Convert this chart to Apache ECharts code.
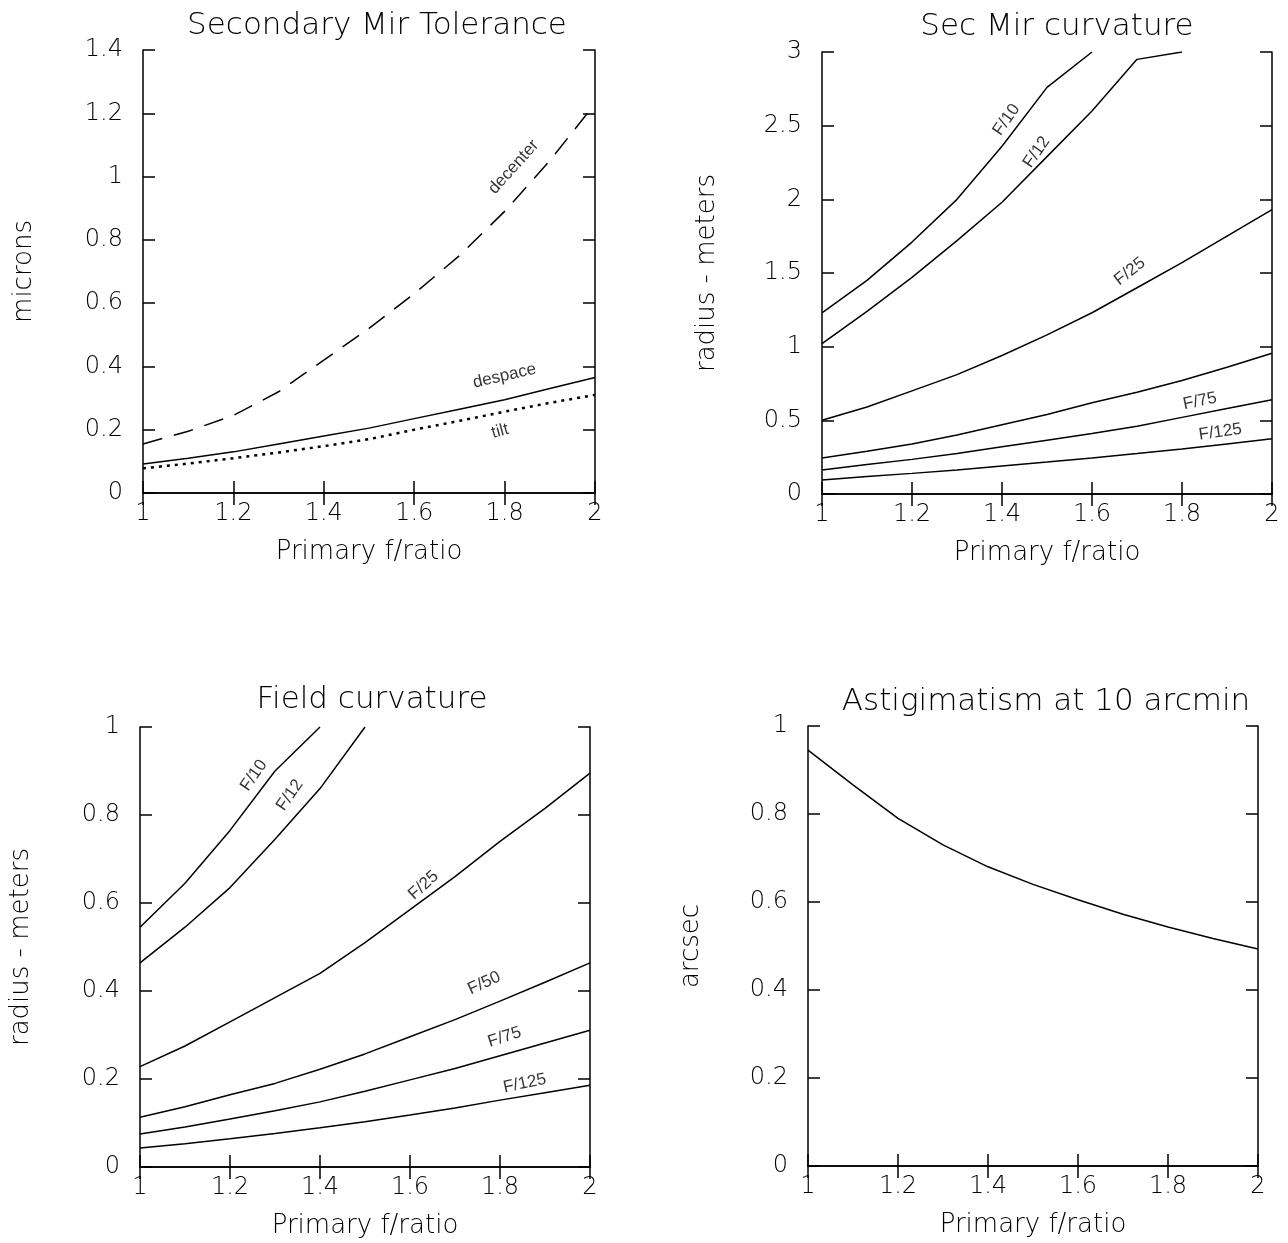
<!DOCTYPE html>
<html>
<head>
<meta charset="utf-8">
<script src="https://cdn.jsdelivr.net/npm/echarts@6/dist/echarts.min.js"></script>
<style>
  html, body { margin: 0; padding: 0; background: #fff; }
  #chart { width: 1288px; height: 1243px; }
</style>
</head>
<body>
<div id="chart"></div>
<script>
// primary f/ratio sample points (shared by every panel)
const fRatio = [1.0, 1.1, 1.2, 1.3, 1.4, 1.5, 1.6, 1.7, 1.8, 1.9, 2.0];

// Secondary Mir Tolerance (microns)
const decenter = [0.155, 0.195, 0.245, 0.32, 0.42, 0.52, 0.63, 0.75, 0.89, 1.05, 1.23];
const despace  = [0.092, 0.11, 0.13, 0.155, 0.18, 0.205, 0.235, 0.265, 0.295, 0.33, 0.365];
const tilt     = [0.078, 0.093, 0.11, 0.128, 0.148, 0.17, 0.2, 0.228, 0.257, 0.285, 0.31];

// Sec Mir curvature (radius - meters)
const secF10  = [1.23, 1.45, 1.71, 2.0, 2.36, 2.76, 3.0];
const secF12  = [1.02, 1.24, 1.47, 1.72, 1.98, 2.29, 2.6, 2.95, 3.0];
const secF25  = [0.5, 0.59, 0.7, 0.81, 0.94, 1.08, 1.23, 1.4, 1.57, 1.75, 1.93];
const secF50  = [0.245, 0.29, 0.34, 0.4, 0.47, 0.54, 0.62, 0.69, 0.77, 0.86, 0.955];
const secF75  = [0.163, 0.2, 0.235, 0.275, 0.32, 0.365, 0.41, 0.46, 0.52, 0.58, 0.64];
const secF125 = [0.095, 0.118, 0.14, 0.163, 0.19, 0.217, 0.245, 0.275, 0.306, 0.34, 0.375];

// Field curvature (radius - meters)
const fieldF10  = [0.545, 0.645, 0.765, 0.9, 1.0];
const fieldF12  = [0.464, 0.545, 0.635, 0.745, 0.86, 1.0];
const fieldF25  = [0.228, 0.275, 0.33, 0.385, 0.44, 0.51, 0.585, 0.66, 0.74, 0.815, 0.895];
const fieldF50  = [0.113, 0.137, 0.164, 0.19, 0.222, 0.257, 0.296, 0.335, 0.377, 0.42, 0.464];
const fieldF75  = [0.075, 0.091, 0.109, 0.128, 0.148, 0.172, 0.198, 0.224, 0.253, 0.282, 0.311];
const fieldF125 = [0.043, 0.053, 0.064, 0.076, 0.089, 0.103, 0.118, 0.134, 0.152, 0.169, 0.186];

// Astigimatism at 10 arcmin (arcsec)
const astig = [0.945, 0.866, 0.79, 0.73, 0.68, 0.64, 0.605, 0.572, 0.543, 0.517, 0.493];

// curve labels: [text, f/ratio, value, rotation]
const tolLabels = [['decenter', 1.82, 1.03, 48], ['despace', 1.8, 0.37, 13], ['tilt', 1.79, 0.195, 15]];
const secLabels = [['F/10', 1.41, 2.54, 55], ['F/12', 1.477, 2.32, 55], ['F/25', 1.684, 1.51, 38],
                   ['F/75', 1.84, 0.63, 12], ['F/125', 1.885, 0.42, 8]];
const fieldLabels = [['F/10', 1.253, 0.89, 55], ['F/12', 1.333, 0.845, 55], ['F/25', 1.63, 0.64, 42],
                     ['F/50', 1.765, 0.418, 25], ['F/75', 1.81, 0.295, 18], ['F/125', 1.855, 0.19, 12]];

const thinFont = 'DejaVu Sans';
const black = '#000';

function pairs(arr) {
    return arr.map((v, i) => [fRatio[i], v]);
}

// bottom axis with labels + top mirror axis with inward ticks
function xAxes(gi) {
    const common = {
        type: 'value', gridIndex: gi, min: 1, max: 2, interval: 0.2,
        axisLine: { show: true, lineStyle: { color: black, width: 1.5 } },
        axisTick: { show: true, inside: true, length: 12, lineStyle: { color: black, width: 1.5 } },
        splitLine: { show: false }
    };
    return [
        Object.assign({}, common, {
            position: 'bottom',
            name: 'Primary f/ratio', nameLocation: 'middle', nameGap: 46,
            nameTextStyle: { fontSize: 26, fontFamily: thinFont, fontWeight: 300, color: black },
            axisLabel: { fontSize: 24, fontFamily: thinFont, fontWeight: 300, color: black, margin: 9 }
        }),
        Object.assign({}, common, { position: 'top', axisLabel: { show: false } })
    ];
}

function yAxes(gi, max, interval, name, nameGap) {
    const common = {
        type: 'value', gridIndex: gi, min: 0, max: max, interval: interval,
        axisLine: { show: true, lineStyle: { color: black, width: 1.5 } },
        axisTick: { show: true, inside: true, length: 12, lineStyle: { color: black, width: 1.5 } },
        splitLine: { show: false }
    };
    return [
        Object.assign({}, common, {
            position: 'left',
            name: name, nameLocation: 'middle', nameGap: nameGap, nameRotate: 90,
            nameTextStyle: { fontSize: 26, fontFamily: thinFont, fontWeight: 300, color: black },
            axisLabel: { fontSize: 24, fontFamily: thinFont, fontWeight: 300, color: black, margin: 20 }
        }),
        Object.assign({}, common, { position: 'right', axisLabel: { show: false } })
    ];
}

function line(gi, arr, style) {
    return {
        type: 'line', xAxisIndex: gi * 2, yAxisIndex: gi * 2,
        data: pairs(arr), showSymbol: false, symbol: 'none', silent: true,
        lineStyle: Object.assign({ color: black, width: 1.5 }, style || {})
    };
}

function labels(gi, list) {
    return {
        type: 'scatter', xAxisIndex: gi * 2, yAxisIndex: gi * 2,
        symbolSize: 0, silent: true,
        label: {
            show: true, position: 'inside', formatter: p => p.data.name,
            fontSize: 17, fontFamily: 'Liberation Sans', color: black
        },
        data: list.map(d => ({ name: d[0], value: [d[1], d[2]], label: { rotate: d[3] } }))
    };
}

const titleStyle = { fontSize: 31, fontFamily: thinFont, fontWeight: 300, color: black };

const myChart = echarts.init(document.getElementById('chart'), null, { renderer: 'canvas' });
const option = {
    backgroundColor: '#fff',
    animation: false,
    title: [
        { text: 'Secondary Mir Tolerance', left: 372, top: 5, textAlign: 'center', textStyle: titleStyle },
        { text: 'Sec Mir curvature', left: 1052, top: 6, textAlign: 'center', textStyle: titleStyle },
        { text: 'Field curvature', left: 367, top: 679, textAlign: 'center', textStyle: titleStyle },
        { text: 'Astigimatism at 10 arcmin', left: 1041, top: 681, textAlign: 'center', textStyle: titleStyle }
    ],
    grid: [
        { left: 143, top: 50, width: 452, height: 443 },
        { left: 822, top: 52, width: 450, height: 442 },
        { left: 140, top: 727, width: 450, height: 440 },
        { left: 808, top: 726, width: 450, height: 440 }
    ],
    xAxis: [].concat(xAxes(0), xAxes(1), xAxes(2), xAxes(3)),
    yAxis: [].concat(
        yAxes(0, 1.4, 0.2, 'microns', 106),
        yAxes(1, 3, 0.5, 'radius - meters', 102),
        yAxes(2, 1, 0.2, 'radius - meters', 106),
        yAxes(3, 1, 0.2, 'arcsec', 104)
    ),
    series: [
        line(0, decenter, { type: [20, 12] }),
        line(0, despace),
        line(0, tilt, { type: [3, 5], width: 2.5 }),
        labels(0, tolLabels),

        line(1, secF10), line(1, secF12), line(1, secF25),
        line(1, secF50), line(1, secF75), line(1, secF125),
        labels(1, secLabels),

        line(2, fieldF10), line(2, fieldF12), line(2, fieldF25),
        line(2, fieldF50), line(2, fieldF75), line(2, fieldF125),
        labels(2, fieldLabels),

        line(3, astig)
    ]
};

myChart && myChart.setOption(option);
</script>
</body>
</html>
